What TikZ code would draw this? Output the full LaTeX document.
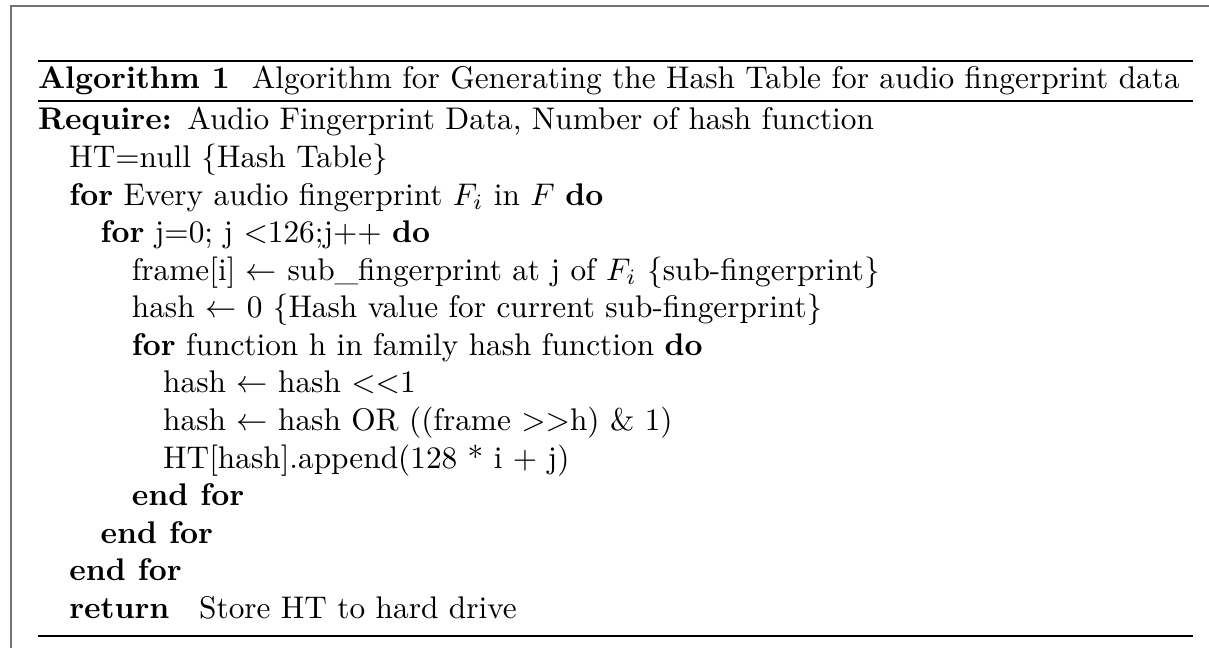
\documentclass[tikz,border=0pt]{standalone}
\usepackage{amsmath}
\begin{document}
\begin{tikzpicture}[x=0.3195pt, y=-0.3195pt,
  algline/.style={anchor=base west, inner sep=0pt, outer sep=0pt, font=\normalsize},
  toprule/.style={line width=0.8pt},
  thinrule/.style={line width=0.4pt},
  framerule/.style={line width=0.35pt, draw=black!55}]
  % page area
  \useasboundingbox (0,0) rectangle (1209,648);
  % outer frame (top and left edges)
  \draw[framerule] (1209,6) -- (11,6) -- (11,648);
  % float rules
  \draw[toprule]  (38,61)  -- (1193,61);
  \draw[thinrule] (38,101) -- (1193,101);
  \draw[thinrule] (38,636) -- (1193,636);
  % caption
  \node[algline] (cap) at (38,89) {\textbf{Algorithm 1}\hspace{7pt}Algorithm for Generating the Hash Table for audio fingerprint data};
  % body: one line every 12pt, indentation 1em per level
  \def\ind{31.3}
  \def\bl{37.56}
  \node[algline] (l0)  at (38,130) {\textbf{Require:}\hspace{5pt}Audio Fingerprint Data, Number of hash function};
  \node[algline] (l1)  at (38+\ind,130+\bl) {HT=null \{Hash Table\}};
  \node[algline] (l2)  at (38+\ind,130+2*\bl) {\textbf{for} Every audio fingerprint $F_i$ in $F$ \textbf{do}};
  \node[algline] (l3)  at (38+2*\ind,130+3*\bl) {\textbf{for} j=0; j $<$126;j++ \textbf{do}};
  \node[algline] (l4)  at (38+3*\ind,130+4*\bl) {frame[i] $\leftarrow$ sub\_fingerprint at j of $F_i$ \{sub-fingerprint\}};
  \node[algline] (l5)  at (38+3*\ind,130+5*\bl) {hash $\leftarrow$ 0 \{Hash value for current sub-fingerprint\}};
  \node[algline] (l6)  at (38+3*\ind,130+6*\bl) {\textbf{for} function h in family hash function \textbf{do}};
  \node[algline] (l7)  at (38+4*\ind,130+7*\bl) {hash $\leftarrow$ hash $<<$1};
  \node[algline] (l8)  at (38+4*\ind,130+8*\bl) {hash $\leftarrow$ hash OR ((frame $>>$h) \& 1)};
  \node[algline] (l9)  at (38+4*\ind,130+9*\bl) {HT[hash].append(128 * i + j)};
  \node[algline] (l10) at (38+3*\ind,130+10*\bl) {\textbf{end for}};
  \node[algline] (l11) at (38+2*\ind,130+11*\bl) {\textbf{end for}};
  \node[algline] (l12) at (38+\ind,130+12*\bl) {\textbf{end for}};
  \node[algline] (l13) at (38+\ind,130+13*\bl) {\textbf{return}\hspace{9.5pt}Store HT to hard drive};
\end{tikzpicture}
\end{document}
